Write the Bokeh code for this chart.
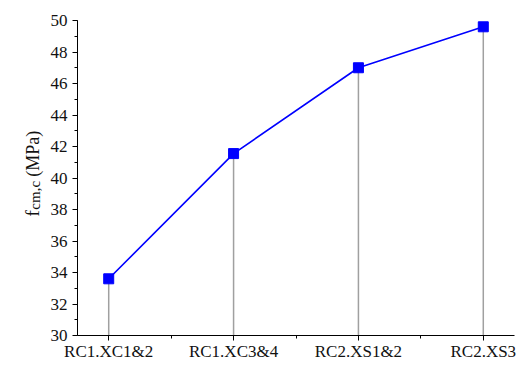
import math
from bokeh.plotting import figure
from bokeh.layouts import row
from bokeh.models import FixedTicker, ColumnDataSource
from bokeh.core.properties import value
from bokeh.embed import file_html
from bokeh.resources import INLINE

categories = ["RC1.XC1&2", "RC1.XC3&4", "RC2.XS1&2", "RC2.XS3"]
fcm_values = [33.6, 41.55, 47.0, 49.6]
y_ticks = [30, 32, 34, 36, 38, 40, 42, 44, 46, 48, 50]
y_minor = list(range(30, 51))

FONT = "Liberation Serif"
TXT = "#111111"
FW, FH = 437, 317
TOP, BOTTOM = 20, 26
LW = 45
H = TOP + FH + BOTTOM
X0, X1 = -0.25, 3.25
Y0, Y1 = 30, 50

idx = list(range(len(categories)))
src = ColumnDataSource(dict(x=idx, y=fcm_values, base=[Y0] * len(idx)))

p = figure(width=32 + FW + 2, height=H, x_range=(X0, X1), y_range=(Y0, Y1),
           output_backend="svg", toolbar_location=None,
           min_border_left=32, min_border_top=TOP, min_border_right=2, min_border_bottom=BOTTOM)
p.outline_line_color = None
p.xgrid.visible = False
p.ygrid.visible = False

p.segment(x0="x", y0="base", x1="x", y1="y", source=src, line_color="#a0a0a0", line_width=1.5)
p.line(x="x", y="y", source=src, line_color="#0000ff", line_width=1.6)
p.scatter(x="x", y="y", source=src, marker="square", size=10, fill_color="#0000ff", line_color="#0000ff")

p.xaxis.ticker = FixedTicker(ticks=idx, minor_ticks=[i + 0.5 for i in idx[:-1]])
p.xaxis.major_label_overrides = {i: c for i, c in zip(idx, categories)}
p.yaxis.ticker = FixedTicker(ticks=y_ticks, minor_ticks=y_minor)

for ax in (p.xaxis, p.yaxis):
    ax.axis_line_color = "black"
    ax.axis_line_width = 1
    ax.major_tick_line_color = "black"
    ax.minor_tick_line_color = "black"
    ax.major_tick_in = 0
    ax.major_tick_out = 5
    ax.minor_tick_in = 0
    ax.minor_tick_out = 3
    ax.major_label_text_font = FONT
    ax.major_label_text_font_size = "17px"
    ax.major_label_text_color = TXT
p.yaxis.major_label_standoff = 5
p.xaxis.major_label_standoff = 1

# y-axis title f_{cm,c} (MPa) drawn in a narrow side figure (pixel coordinates, y down)
lf = figure(width=LW, height=H, x_range=(0, LW), y_range=(H, 0),
            output_backend="svg", toolbar_location=None,
            min_border=0, min_border_left=0, min_border_right=0,
            min_border_top=0, min_border_bottom=0)
lf.axis.visible = False
lf.grid.visible = False
lf.outline_line_color = None

ang = math.pi / 2
lab = ColumnDataSource(dict(
    x=[32, 34, 32],
    y=[226, 218, 180],
    t=["f", "cm,c", "(MPa)"],
    s=["19px", "15px", "18px"],
))
lf.text(x="x", y="y", text="t", source=lab, angle=ang, text_font=value(FONT),
        text_font_size="s", text_color=TXT, text_baseline="alphabetic", text_align="left")

layout = row(lf, p, spacing=0)
open("out.html", "w").write(file_html(layout, INLINE))
